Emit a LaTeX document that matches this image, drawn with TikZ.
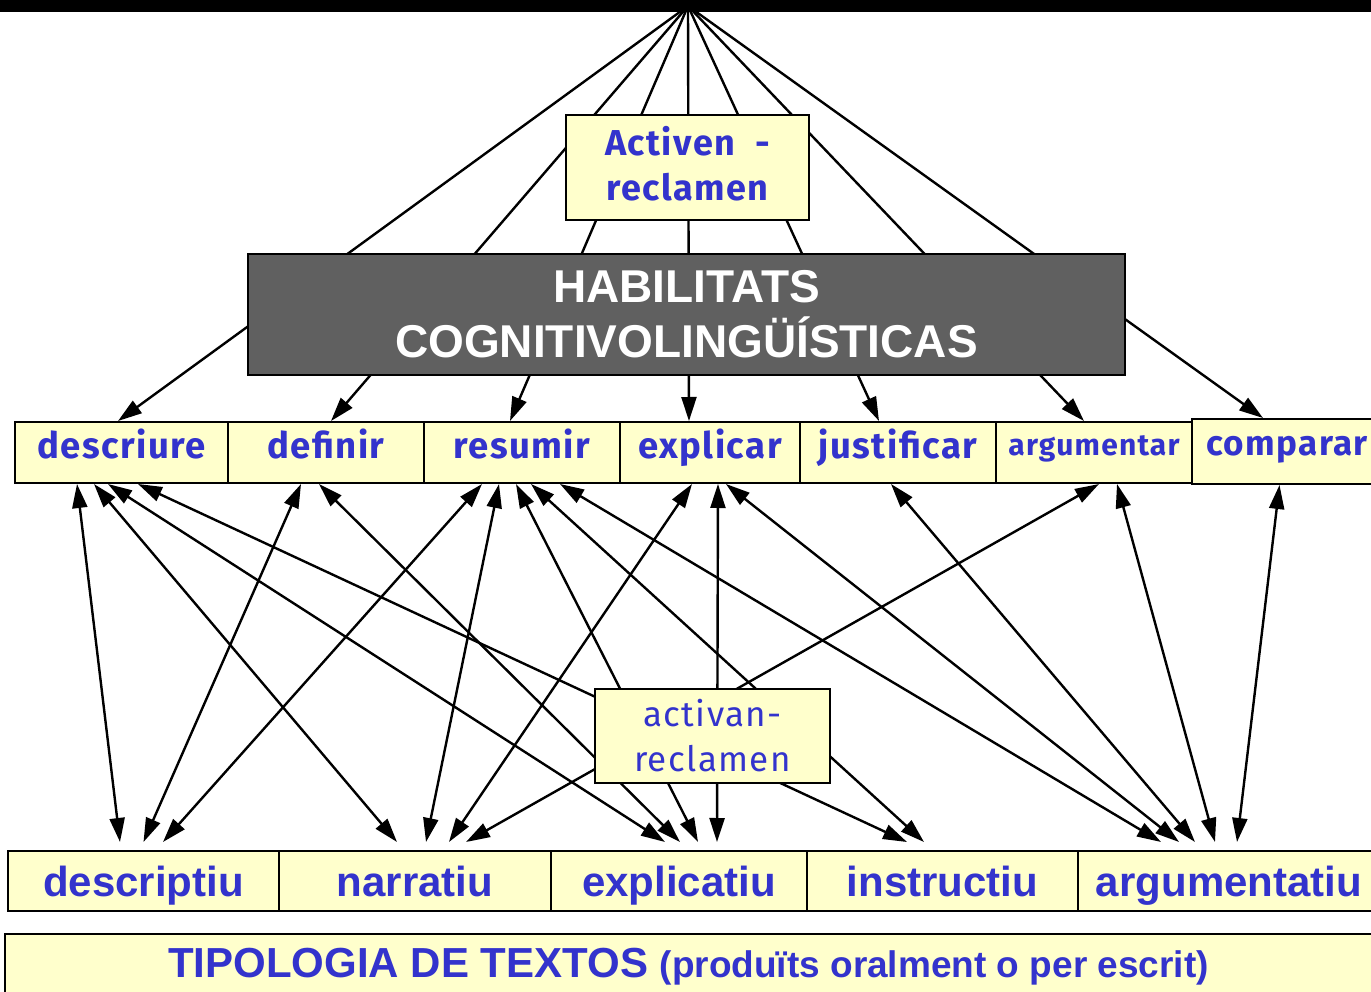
\documentclass[tikz,border=0pt]{standalone}
\usepackage{fontspec}
\setmainfont{Liberation Sans}
\newfontfamily\comicfont[LetterSpace=4]{Fira Sans}
\usetikzlibrary{arrows.meta}

\definecolor{paleyellow}{RGB}{255,255,204}
\definecolor{labelblue}{RGB}{51,51,204}
\definecolor{boxgray}{RGB}{96,96,96}

\tikzset{
  skillbox/.style={draw=black, line width=2pt, fill=paleyellow, text=labelblue,
    font=\comicfont\bfseries\fontsize{36.5}{40}\selectfont, minimum height=61pt, inner sep=0pt,
    text height=22pt, text depth=11pt},
  typebox/.style={draw=black, line width=2pt, fill=paleyellow, text=labelblue,
    font=\bfseries\fontsize{42}{46}\selectfont, minimum height=60pt, inner sep=0pt,
    text height=30pt, text depth=0pt},
  notebox/.style={draw=black, line width=2pt, fill=paleyellow, text=labelblue,
    align=center, inner sep=0pt},
  fanline/.style={line width=2.4pt, -{Triangle[length=24pt,width=15pt]}},
  linkline/.style={line width=2.4pt, {Triangle[length=24pt,width=15pt]}-{Triangle[length=24pt,width=15pt]}}
}

\begin{document}
\begin{tikzpicture}[x=1pt, y=-1pt]
  \useasboundingbox (0,0) rectangle (1371,992);

  % 顶点
  \coordinate (apex) at (688,6);

  % 技能行
  \node[skillbox, minimum width=213pt] (descriure) at (121.5,452.5) {descriure};
  \node[skillbox, minimum width=196pt] (definir) at (326,452.5) {definir};
  \node[skillbox, minimum width=196pt] (resumir) at (522,452.5) {resumir};
  \node[skillbox, minimum width=180pt] (explicar) at (710,452.5) {explicar};
  \node[skillbox, minimum width=196pt] (justificar) at (898,452.5) {justificar};
  \node[skillbox, minimum width=196pt, font=\comicfont\bfseries\fontsize{30}{32}\selectfont, text depth=16pt] (argumentar) at (1094,452.5) {argumentar};
  \node[skillbox, minimum width=190pt, minimum height=65pt, text depth=14pt,
    font=\comicfont\bfseries\fontsize{35}{40}\selectfont] (comparar) at (1287,451.5) {comparar\hspace{6pt}};

  % 从顶点画到各技能
  \draw[fanline] (apex) -- ([xshift=-3.5pt]descriure.north);
  \draw[fanline] (apex) -- ([xshift=5pt]definir.north);
  \draw[fanline] (apex) -- ([xshift=-12pt]resumir.north);
  \draw[fanline] (apex) -- ([xshift=-21pt]explicar.north);
  \draw[fanline] (apex) -- ([xshift=-19pt]justificar.north);
  \draw[fanline] (apex) -- ([xshift=-10pt]argumentar.north);
  \draw[fanline] (apex) -- ([xshift=-24pt]comparar.north);

  % 标题框
  \node[notebox, minimum width=243pt, minimum height=105pt,
    font=\comicfont\bfseries\fontsize{36}{45}\selectfont] (activen) at (687.5,167.5) {Activen \;-\\reclamen\\[-36pt]};
  \node[draw=black, line width=2pt, fill=boxgray, text=white, align=center,
    minimum width=877pt, minimum height=121pt, inner sep=0pt,
    font=\bfseries\fontsize{46}{55}\selectfont] (habilitats) at (686.5,314.5) {HABILITATS\\COGNITIVOLINGÜÍSTICAS};

  % 文本类型行
  \node[typebox, minimum width=271pt] (descriptiu) at (143.5,881) {descriptiu};
  \node[typebox, minimum width=272pt] (narratiu) at (415,881) {narratiu};
  \node[typebox, minimum width=256pt] (explicatiu) at (679,881) {explicatiu};
  \node[typebox, minimum width=271pt] (instructiu) at (942.5,881) {instructiu};
  \node[typebox, minimum width=302pt] (argumentatiu) at (1229,881) {argumentatiu};

  % 双向箭头
  \draw[linkline] ([xshift=-44.5pt]descriure.south) -- ([xshift=-23.5pt,yshift=8pt]descriptiu.north);
  \draw[linkline] ([xshift=-27.5pt]descriure.south) -- ([xshift=-18pt,yshift=8pt]narratiu.north);
  \draw[linkline] ([xshift=-13.5pt]descriure.south) -- ([xshift=-14pt,yshift=8pt]explicatiu.north);
  \draw[linkline] ([xshift=16.5pt]descriure.south) -- ([xshift=-35.5pt,yshift=8pt]instructiu.north);
  \draw[linkline] ([xshift=-25pt]definir.south) -- ([xshift=0pt,yshift=8pt]descriptiu.north);
  \draw[linkline] ([xshift=-7pt]definir.south) -- ([xshift=1pt,yshift=8pt]explicatiu.north);
  \draw[linkline] ([xshift=-40pt]resumir.south) -- ([xshift=19.5pt,yshift=8pt]descriptiu.north);
  \draw[linkline] ([xshift=-23pt]resumir.south) -- ([xshift=11pt,yshift=8pt]narratiu.north);
  \draw[linkline] ([xshift=-6pt]resumir.south) -- ([xshift=19pt,yshift=8pt]explicatiu.north);
  \draw[linkline] ([xshift=9pt]resumir.south) -- ([xshift=-18.5pt,yshift=8pt]instructiu.north);
  \draw[linkline] ([xshift=38pt]resumir.south) -- ([xshift=-68pt,yshift=8pt]argumentatiu.north);
  \draw[linkline] ([xshift=-18pt]explicar.south) -- ([xshift=34pt,yshift=8pt]narratiu.north);
  \draw[linkline] ([xshift=8pt]explicar.south) -- ([xshift=38pt,yshift=8pt]explicatiu.north);
  \draw[linkline] ([xshift=16pt]explicar.south) -- ([xshift=-50pt,yshift=8pt]argumentatiu.north);
  \draw[linkline] ([xshift=-7pt]justificar.south) -- ([xshift=-34pt,yshift=8pt]argumentatiu.north);
  \draw[linkline] ([xshift=5pt]argumentar.south) -- ([xshift=51pt,yshift=8pt]narratiu.north);
  \draw[linkline] ([xshift=23pt]argumentar.south) -- ([xshift=-14pt,yshift=8pt]argumentatiu.north);
  \draw[linkline] ([xshift=-7.5pt]comparar.south) -- ([xshift=8pt,yshift=8pt]argumentatiu.north);

  % 中间标签
  \node[notebox, minimum width=235pt, minimum height=94pt,
    font=\comicfont\fontsize{35}{45}\selectfont] (activan) at (712.5,736) {activan-\\reclamen};

  % 底部横幅
  \node[notebox, minimum width=1385pt, minimum height=66pt, font=\bfseries\fontsize{42}{46}\selectfont] (tipologia) at (697.5,967)
    {TIPOLOGIA DE TEXTOS {\fontsize{37}{40}\selectfont(produïts oralment o per escrit)}\hspace{18pt}};

  % 顶部黑条
  \fill[black] (0,0) rectangle (1371,12);
\end{tikzpicture}
\end{document}
